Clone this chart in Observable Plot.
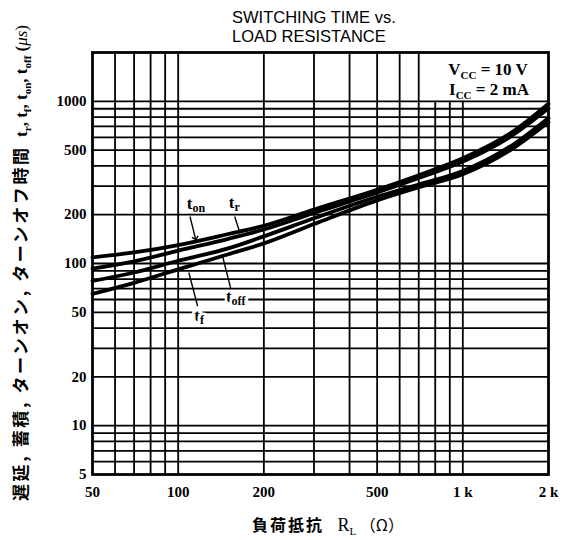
<!DOCTYPE html>
<html><head><meta charset="utf-8">
<script src="https://cdn.jsdelivr.net/npm/d3@7"></script>
<script src="https://cdn.jsdelivr.net/npm/@observablehq/plot@0.6"></script>
<style>body{margin:0;background:#fff} #chart svg{display:block;overflow:visible}</style>
</head><body><div id="chart"></div>
<script>
// ---- data ----
const R     = [50, 70, 100, 150, 200, 300, 500, 700, 1000, 1500, 2000];
const tOn   = [109, 117, 130, 152, 171, 215, 285, 350, 445, 650, 965];
const tR    = [ 93, 103, 120, 142, 162, 205, 274, 337, 425, 620, 905];
const tOff  = [ 78,  88, 104, 124, 147, 190, 258, 307, 372, 540, 790];
const tF    = [ 65,  76,  92, 114, 133, 175, 245, 295, 355, 512, 745];
const seriesNames = ["on", "r", "off", "f"];

const xTicks = [50, 100, 200, 500, 1000, 2000];
const xTickLabels = ["50", "100", "200", "500", "1 k", "2 k"];
const yTicks = [5, 10, 20, 50, 100, 200, 500, 1000];
const yTickLabels = ["5", "10", "20", "50", "100", "200", "500", "1000"];
const xGridFull = [60, 70, 80, 90, 100, 200, 300, 400, 500, 600, 700];
const xGridShort = [800, 900, 1000];
const yGrid = [6, 7, 8, 9, 10, 20, 30, 40, 50, 60, 70, 80, 90, 100, 200, 300, 400, 500, 600, 700, 800, 900, 1000];

// curve labels (positions in data units: R, t)
const labelSubs = ["on", "r", "off", "f"];
const labelR    = [116, 158, 160, 119];
const labelT    = [215, 218, 57.5, 43.9];
const labelHalo = [false, false, true, true];
const leadR1 = [110, 158, 153, 117];
const leadT1 = [195, 195, 70, 54.6];
const leadR2 = [115, 165, 143, 109];
const leadT2 = [143, 153, 112, 88];

const titleLines = ["SWITCHING TIME vs.", "LOAD RESISTANCE"];

// ---- build tables ----
const seriesVals = [tOn, tR, tOff, tF];
const rows = seriesVals.flatMap((vals, k) => R.map((r, i) => ({R: r, t: vals[i], name: seriesNames[k]})));
const leaders = leadR1.map((_, i) => ({x1: leadR1[i], y1: leadT1[i], x2: leadR2[i], y2: leadT2[i], arrow: i === 0}));

const serif = "'Liberation Serif', 'DejaVu Serif', serif";
const cjk = "'Noto Sans CJK JP', sans-serif";

const plot = Plot.plot({
  width: 575, height: 540,
  marginLeft: 92, marginRight: 27, marginTop: 52, marginBottom: 66,
  x: {type: "log", domain: [50, 2000], axis: null},
  y: {type: "log", domain: [5, 2000], axis: null},
  style: {background: "#fff", fontFamily: serif, color: "#000"},
  marks: [
    Plot.ruleX(xGridFull, {stroke: "#000", strokeWidth: 1.8}),
    Plot.ruleX(xGridShort, {x: d => d, y1: () => 5, y2: () => 1000, stroke: "#000", strokeWidth: 1.8}),
    Plot.ruleY(yGrid, {stroke: "#000", strokeWidth: 1.8}),
    Plot.line(rows, {x: "R", y: "t", z: "name", curve: "monotone-x", stroke: "#000", strokeWidth: 3.8}),
    Plot.link(leaders.filter(d => d.arrow), {x1: "x1", y1: "y1", x2: "x2", y2: "y2", stroke: "#000", strokeWidth: 1.4, markerEnd: "arrow"}),
    Plot.link(leaders.filter(d => !d.arrow), {x1: "x1", y1: "y1", x2: "x2", y2: "y2", stroke: "#000", strokeWidth: 1.4}),
    Plot.frame({stroke: "#000", strokeWidth: 2.8}),
    Plot.text(xTicks, {x: d => d, frameAnchor: "bottom", dy: 18, text: (d, i) => xTickLabels[i], fontSize: 15, fontWeight: "bold", lineAnchor: "middle"}),
    Plot.text(yTicks, {y: d => d, frameAnchor: "left", dx: -6, textAnchor: "end", text: (d, i) => yTickLabels[i], fontSize: 15, fontWeight: "bold", lineAnchor: "middle"})
  ]
});
document.getElementById("chart").appendChild(plot);

const sx = plot.scale("x"), sy = plot.scale("y");
const svg = d3.select(plot);

function rich(parent, parts, base) {
  const t = parent.append("text");
  for (const [k, v] of Object.entries(base)) t.attr(k, v);
  let shift = 0;
  for (const p of parts) {
    const ts = t.append("tspan").text(p.text);
    if (p.font) ts.attr("font-family", p.font);
    if (p.size) ts.attr("font-size", p.size);
    if (p.weight) ts.attr("font-weight", p.weight);
    if (p.style) ts.attr("font-style", p.style);
    if (p.ls != null) ts.attr("letter-spacing", p.ls);
    const want = p.sub ? (p.subDy || 4) : 0;
    if (want !== shift) { ts.attr("dy", want - shift); shift = want; }
  }
  return t;
}

// title
titleLines.forEach((s, i) => {
  svg.append("text").attr("x", 232).attr("y", 23 + i * 19).attr("text-anchor", "start")
    .attr("font-family", "'Liberation Sans', Arial, sans-serif").attr("font-size", 16.5)
    .attr("fill", "#000").text(s);
});

// conditions box text
rich(svg, [
  {text: "V"}, {text: "CC", sub: true, size: 11}, {text: " = 10 V"}
], {x: 488, y: 75, "text-anchor": "middle", "font-family": serif, "font-size": 17, "font-weight": "bold", fill: "#000"});
rich(svg, [
  {text: "I"}, {text: "CC", sub: true, size: 11}, {text: " = 2 mA"}
], {x: 489, y: 95, "text-anchor": "middle", "font-family": serif, "font-size": 17, "font-weight": "bold", fill: "#000"});

// curve labels
labelSubs.forEach((s, i) => {
  const base = {x: sx.apply(labelR[i]), y: sy.apply(labelT[i]), "text-anchor": "middle",
    "font-family": serif, "font-size": 17, "font-weight": "bold", fill: "#000"};
  if (labelHalo[i]) Object.assign(base, {stroke: "#fff", "stroke-width": 5, "paint-order": "stroke"});
  rich(svg, [{text: "t"}, {text: s, sub: true, size: 12, subDy: 3}], base);
});

// y-axis title (rotated)
rich(svg, [
  {text: "遅延, 蓄積, ターンオン, ターンオフ時間", font: cjk, size: 17, weight: "bold", ls: 2.6},
  {text: "  t"}, {text: "r", sub: true, size: 11},
  {text: ", t"}, {text: "f", sub: true, size: 11},
  {text: ", t"}, {text: "on", sub: true, size: 11},
  {text: ", t"}, {text: "off", sub: true, size: 11},
  {text: " ("}, {text: "μs", style: "italic", weight: "normal"}, {text: ")", weight: "normal"}
], {transform: "translate(27,263) rotate(-90)", "text-anchor": "middle", "font-family": serif,
    "font-size": 17, "font-weight": "bold", fill: "#000"});

// x-axis title
rich(svg, [
  {text: "負荷抵抗", font: cjk, size: 16, weight: "bold", ls: 2},
  {text: "   R", size: 18}, {text: "L", sub: true, size: 11},
  {text: " （Ω）", font: cjk, size: 16}
], {x: 328, y: 531, "text-anchor": "middle", "font-family": serif, "font-size": 17, fill: "#000"});
</script>
</body></html>
